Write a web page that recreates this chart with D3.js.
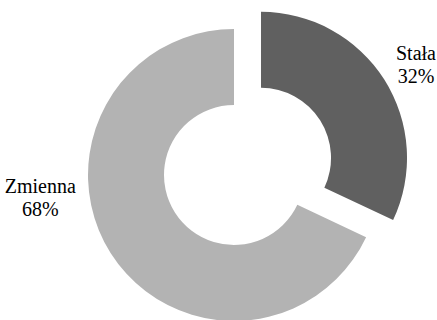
<!DOCTYPE html>
<html><head><meta charset="utf-8">
<script src="https://cdn.jsdelivr.net/npm/d3@7"></script>
<style>body{margin:0;background:#fff}svg{display:block}</style>
</head><body>
<script>
const categories = ["Stała", "Zmienna"];
const values = [32, 68];
const labels = ["32%", "68%"];
const colors = ["#606060", "#b3b3b3"];

const W = 437, H = 320;
const cx = 234, cy = 175, R = 146, r = 70, explode = 32;
const svg = d3.select("body").append("svg").attr("width", W).attr("height", H)
  .style("font-family", "'Liberation Serif'");
const pie = d3.pie().sort(null).value(d => d)(values);
const arc = d3.arc().innerRadius(r).outerRadius(R);
const g = svg.append("g").attr("transform", `translate(${cx},${cy})`);
const offs = [explode, 0];
const labelR = [177.5, 196];
const labelA = [60.8, 261.2];
pie.forEach((p, i) => {
  const mid = (p.startAngle + p.endAngle) / 2;
  const ox = offs[i] * Math.sin(mid), oy = -offs[i] * Math.cos(mid);
  g.append("path").attr("transform", `translate(${ox},${oy})`)
    .attr("d", arc(p)).attr("fill", colors[i]);
  const a = labelA[i] * Math.PI / 180;
  const lx = cx + ox + labelR[i] * Math.sin(a), ly = cy + oy - labelR[i] * Math.cos(a);
  [[categories[i], -11.5], [labels[i], 11.5]].forEach(([s, dy]) => {
    const t = svg.append("text").attr("x", lx).attr("y", ly + dy)
      .style("font-family", "'Liberation Serif'")
      .style("font-size", "20px")
      .text(s);
    const w = t.node().getComputedTextLength();
    t.attr("x", lx - w / 2);
  });
});
</script>
</body></html>
